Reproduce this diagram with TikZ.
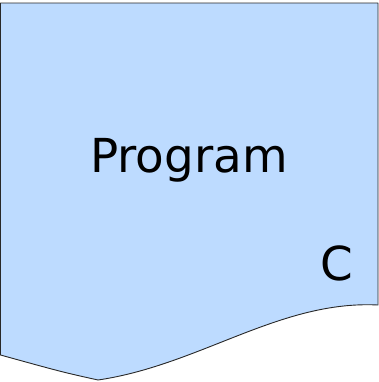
\documentclass[tikz,border=0pt]{standalone}
\usepackage{fontspec}
\setmainfont{DejaVu Sans}
\definecolor{docfill}{RGB}{189,219,255}
\definecolor{docline}{RGB}{40,40,40}
\begin{document}
\begin{tikzpicture}[x=1bp,y=-1bp,
  docshape/.style={fill=docfill,draw=docline,line width=0.9bp,line join=round},
  bigtext/.style={font=\fontsize{47}{56}\selectfont,inner sep=0pt,anchor=base}]
\useasboundingbox (0,0) rectangle (379,382);
\path[docshape] (0.5,3) -- (378,3) -- (378,305)
  .. controls (280,300) and (200,365) .. (98,380)
  .. controls (62,372) .. (0.5,355) -- cycle;
\node[bigtext] (prog) at (189,172) {Program};
\node[bigtext] (lang) at (337,280) {C};
\end{tikzpicture}
\end{document}
